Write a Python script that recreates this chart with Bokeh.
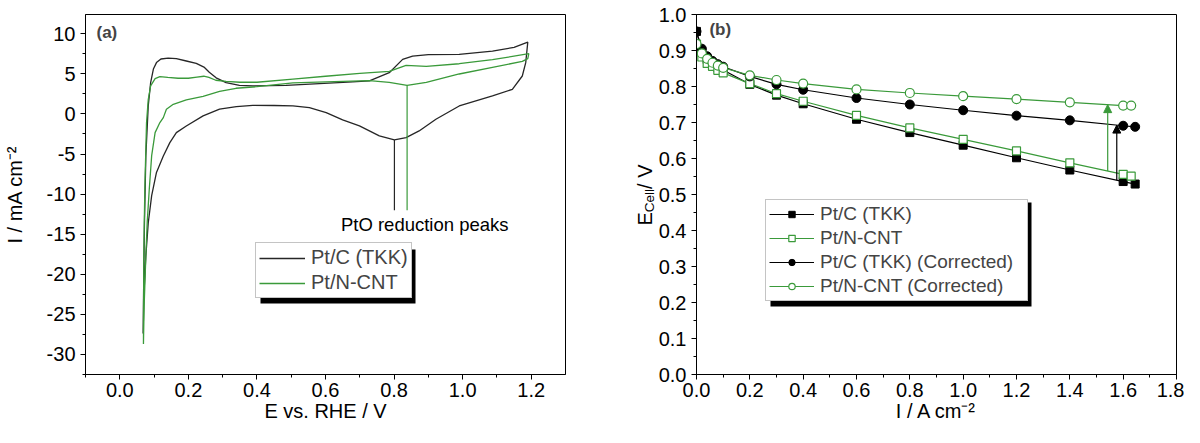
import numpy as np
from bokeh.plotting import figure
from bokeh.models import (Legend, LegendItem, Label, BoxAnnotation, Arrow, NormalHead,
                          SingleIntervalTicker, PrintfTickFormatter, Range1d)
from bokeh.layouts import row
from bokeh.embed import file_html
from bokeh.resources import INLINE

# ---------------- data: panel (a) cyclic voltammograms ----------------
cv_tkk_E = [0.068, 0.070, 0.072, 0.076, 0.083, 0.090, 0.098, 0.107, 0.120, 0.141, 0.165, 0.194,
            0.223, 0.247, 0.261, 0.281, 0.310, 0.349, 0.388, 0.485, 0.582, 0.679, 0.728, 0.786,
            0.825, 0.854, 0.900, 0.990, 1.087, 1.150, 1.190,
            1.184, 1.174, 1.145, 1.087, 0.990, 0.922, 0.873, 0.835, 0.801, 0.757, 0.699, 0.650,
            0.602, 0.553, 0.505, 0.450, 0.388, 0.340, 0.291, 0.243, 0.194, 0.165, 0.146, 0.127,
            0.107, 0.093, 0.083, 0.076, 0.071, 0.068]
cv_tkk_I = [-27.4, -20.0, -13.5, -5.2, 1.0, 3.9, 5.6, 6.4, 6.85, 6.97, 6.9, 6.6,
            6.3, 5.8, 5.2, 4.5, 3.9, 3.57, 3.49, 3.57, 3.78, 4.0, 4.11, 5.14,
            6.8, 7.22, 7.4, 7.42, 7.84, 8.3, 8.95,
            6.39, 4.73, 3.07, 2.24, 0.99, -0.67, -2.12, -2.95, -3.24, -2.74, -1.49, -0.75,
            0.17, 0.79, 1.0, 1.05, 1.07, 0.9, 0.6, -0.25, -1.5, -2.33, -3.58, -5.24,
            -7.3, -10.2, -13.6, -17.7, -22.0, -27.4]

cv_cnt_E = [0.069, 0.070, 0.073, 0.078, 0.083, 0.090, 0.103, 0.117, 0.140, 0.170, 0.200, 0.225,
            0.245, 0.260, 0.280, 0.310, 0.350, 0.400, 0.505, 0.600, 0.700, 0.786, 0.835, 0.894,
            0.990, 1.087, 1.193,
            1.190, 1.174, 1.087, 0.990, 0.894, 0.838, 0.786, 0.728, 0.600, 0.505, 0.400, 0.339,
            0.291, 0.243, 0.194, 0.156, 0.136, 0.127, 0.117, 0.103, 0.093, 0.086, 0.080, 0.076,
            0.071, 0.069]
cv_cnt_I = [-28.7, -17.7, -9.4, -1.1, 1.8, 3.5, 4.4, 4.65, 4.55, 4.45, 4.45, 4.6,
            4.7, 4.55, 4.2, 4.05, 3.95, 3.95, 4.35, 4.7, 5.05, 5.3, 6.05, 5.93,
            6.26, 6.76, 7.51,
            6.9, 6.55, 5.81, 4.98, 3.94, 3.55, 3.94, 4.15, 4.0, 3.86, 3.4, 3.2,
            2.8, 2.2, 1.74, 1.2, 0.58, -0.46, -1.08, -2.33, -5.2, -9.4, -13.5, -17.7,
            -24.0, -28.7]

# ---------------- data: panel (b) polarisation curves ----------------
i_tkk = [0.0, 0.02, 0.04, 0.06, 0.08, 0.1, 0.2, 0.3, 0.4, 0.6, 0.8, 1.0, 1.2, 1.4, 1.6, 1.645]
v_tkk = [0.953, 0.895, 0.875, 0.862, 0.853, 0.846, 0.806, 0.776, 0.752, 0.709, 0.672, 0.637,
         0.602, 0.568, 0.536, 0.529]
v_tkk_corr = [0.953, 0.905, 0.884, 0.871, 0.862, 0.855, 0.828, 0.806, 0.791, 0.768, 0.750,
              0.734, 0.719, 0.706, 0.691, 0.688]
i_cnt = [0.0, 0.02, 0.04, 0.06, 0.08, 0.1, 0.2, 0.3, 0.4, 0.6, 0.8, 1.0, 1.2, 1.4, 1.6, 1.63]
v_cnt = [0.918, 0.882, 0.864, 0.856, 0.845, 0.838, 0.808, 0.780, 0.759, 0.720, 0.685, 0.653,
         0.621, 0.588, 0.556, 0.551]
v_cnt_corr = [0.918, 0.892, 0.877, 0.866, 0.858, 0.852, 0.831, 0.818, 0.808, 0.792, 0.782,
              0.773, 0.765, 0.756, 0.747, 0.747]

labels_a = ["Pt/C (TKK)", "Pt/N-CNT"]
labels_b = ["Pt/C (TKK)", "Pt/N-CNT", "Pt/C (TKK) (Corrected)", "Pt/N-CNT (Corrected)"]
ylabel_b_parts = ["E", "Cell", " / V"]

FONT = "Liberation Sans"
FS = "20px"
BLACK = "#262626"
GREEN = "#3a9a3a"
TOP, BOTTOM, H = 14, 53, 427


def style(p):
    p.background_fill_color = "white"
    p.border_fill_color = "white"
    p.outline_line_color = "black"
    p.outline_line_width = 1
    p.xgrid.visible = False
    p.ygrid.visible = False
    for ax in (p.xaxis[0], p.yaxis[0]):
        ax.axis_line_color = "black"
        ax.major_tick_line_color = "black"
        ax.minor_tick_line_color = "black"
        ax.major_tick_in = 0
        ax.major_tick_out = 5
        ax.minor_tick_in = 0
        ax.minor_tick_out = 3
        ax.major_label_text_font = FONT
        ax.major_label_text_font_size = FS
        ax.major_label_text_color = "black"
        ax.axis_label_text_font = FONT
        ax.axis_label_text_font_size = FS
        ax.axis_label_text_font_style = "normal"
        ax.axis_label_text_color = "black"
    p.xaxis.major_label_standoff = 3
    p.xaxis.axis_label_standoff = 0
    p.yaxis.major_label_standoff = 5


def style_legend(leg, fs, label_width):
    leg.label_text_font = FONT
    leg.label_text_font_size = fs
    leg.border_line_color = "#8a8a8a"
    leg.border_line_width = 1
    leg.background_fill_alpha = 1.0
    leg.padding = 3
    leg.margin = 0
    leg.spacing = 2
    leg.glyph_height = 22
    leg.label_height = 22
    leg.label_standoff = 6
    leg.label_width = label_width


# ---------------- panel (a) ----------------
p1 = figure(width=569, height=H, x_range=Range1d(-0.1, 1.3), y_range=Range1d(-32.5, 12.4),
            output_backend="svg", toolbar_location=None,
            min_border_left=84, min_border_right=4, min_border_top=TOP, min_border_bottom=BOTTOM)
style(p1)
p1.xaxis.ticker = SingleIntervalTicker(interval=0.2, num_minor_ticks=2)
p1.yaxis.ticker = SingleIntervalTicker(interval=5, num_minor_ticks=2)
p1.xaxis.formatter = PrintfTickFormatter(format="%.1f")
p1.yaxis.formatter = PrintfTickFormatter(format="%d")
p1.xaxis.axis_label = "E vs. RHE / V"
p1.yaxis.axis_label = "I / mA cm\u207b\u00b2"
p1.yaxis.axis_label_standoff = 18

ra1 = p1.line(cv_tkk_E, cv_tkk_I, line_color=BLACK, line_width=1.3)
ra2 = p1.line(cv_cnt_E, cv_cnt_I, line_color=GREEN, line_width=1.3)

# reduction-peak markers located from the data
tkk_E = np.array(cv_tkk_E); tkk_I = np.array(cv_tkk_I)
cnt_E = np.array(cv_cnt_E); cnt_I = np.array(cv_cnt_I)
mask_t = (np.arange(len(tkk_E)) > len(tkk_E) // 2) & (tkk_E > 0.7)
mask_c = (np.arange(len(cnt_E)) > len(cnt_E) // 2) & (cnt_E > 0.7)
kt = np.where(mask_t)[0][np.argmin(tkk_I[mask_t])]
kc = np.where(mask_c)[0][np.argmin(cnt_I[mask_c])]
LINE_BOTTOM = -12.0
p1.segment(x0=[tkk_E[kt]], y0=[tkk_I[kt]], x1=[tkk_E[kt]], y1=[LINE_BOTTOM],
           line_color=BLACK, line_width=1.2)
p1.segment(x0=[cnt_E[kc]], y0=[cnt_I[kc]], x1=[cnt_E[kc]], y1=[LINE_BOTTOM],
           line_color=GREEN, line_width=1.2)
p1.add_layout(Label(x=0.645, y=-13.75, text="PtO reduction peaks", text_font=FONT,
                    text_font_size="18.5px", text_baseline="middle", text_align="left",
                    text_color="black"))
p1.add_layout(Label(x=-0.068, y=10.1, text="(a)", text_font=FONT, text_font_size="17px",
                    text_font_style="bold", text_baseline="middle", text_align="left"))

p1.add_layout(BoxAnnotation(left=175, right=330, bottom=71, top=125,
                            left_units="screen", right_units="screen",
                            bottom_units="screen", top_units="screen",
                            fill_color="black", fill_alpha=1.0, line_alpha=0))
leg1 = Legend(items=[LegendItem(label=labels_a[0], renderers=[ra1]),
                     LegendItem(label=labels_a[1], renderers=[ra2])],
              location=(170, 76))
style_legend(leg1, "20px", 97)
leg1.glyph_width = 46
p1.add_layout(leg1)

# ---------------- y-title strip for panel (b): E with subscript "Cell" ----------------
WL = 86
pl = figure(width=WL, height=H, x_range=Range1d(0, WL), y_range=Range1d(0, 1.0),
            output_backend="svg", toolbar_location=None, x_axis_type=None, y_axis_type=None,
            min_border_left=0, min_border_right=0, min_border_top=TOP, min_border_bottom=BOTTOM,
            outline_line_color=None)
pl.xgrid.visible = False
pl.ygrid.visible = False
PX = 360.0  # frame height in px, to convert text advances into y units
Y0 = 0.414
y_sub = Y0 + 13.3 / PX
y_rest = y_sub + 23.2 / PX
for xt, yt, txt, fs in [(75, Y0, ylabel_b_parts[0], "20px"),
                        (80, y_sub, ylabel_b_parts[1], "13.5px"),
                        (75, y_rest, ylabel_b_parts[2], "20px")]:
    pl.add_layout(Label(x=xt, y=yt, text=txt, angle=np.pi / 2, text_font=FONT,
                        text_font_size=fs, text_baseline="alphabetic", text_align="left",
                        text_color="black"))

# ---------------- panel (b) ----------------
p2 = figure(width=529, height=H, x_range=Range1d(0, 1.8), y_range=Range1d(0, 1.0),
            output_backend="svg", toolbar_location=None,
            min_border_left=39, min_border_right=8, min_border_top=TOP, min_border_bottom=BOTTOM)
style(p2)
p2.xaxis.ticker = SingleIntervalTicker(interval=0.2, num_minor_ticks=2)
p2.yaxis.ticker = SingleIntervalTicker(interval=0.1, num_minor_ticks=2)
p2.xaxis.formatter = PrintfTickFormatter(format="%.1f")
p2.yaxis.formatter = PrintfTickFormatter(format="%.1f")
p2.xaxis.axis_label = "I / A cm\u207b\u00b2"

l1 = p2.line(i_tkk, v_tkk, line_color="black", line_width=1.2)
l2 = p2.line(i_cnt, v_cnt, line_color=GREEN, line_width=1.2)
l3 = p2.line(i_tkk, v_tkk_corr, line_color="black", line_width=1.2)
l4 = p2.line(i_cnt, v_cnt_corr, line_color=GREEN, line_width=1.2)
m1 = p2.scatter(i_tkk, v_tkk, marker="square", size=8, fill_color="black", line_color="black")
m2 = p2.scatter(i_cnt, v_cnt, marker="square", size=8, fill_color="white", line_color=GREEN,
                line_width=1.2)
m3 = p2.scatter(i_tkk, v_tkk_corr, marker="circle", size=9, fill_color="black", line_color="black")
m4 = p2.scatter(i_cnt, v_cnt_corr, marker="circle", size=9, fill_color="white", line_color=GREEN,
                line_width=1.2)

# correction arrows (ends interpolated from the curves)
ARROW_X_TKK = 1.576
ARROW_X_CNT = 1.542
for xa, ii, vlo, vhi, col in [(ARROW_X_TKK, i_tkk, v_tkk, v_tkk_corr, "black"),
                              (ARROW_X_CNT, i_cnt, v_cnt, v_cnt_corr, GREEN)]:
    ya0 = float(np.interp(xa, ii, vlo))
    ya1 = float(np.interp(xa, ii, vhi))
    p2.add_layout(Arrow(end=NormalHead(size=8, fill_color=col, line_color=col),
                        x_start=xa, y_start=ya0, x_end=xa, y_end=ya1,
                        line_color=col, line_width=1.2))

p2.add_layout(Label(x=0.0485, y=0.958, text="(b)", text_font=FONT, text_font_size="17px",
                    text_font_style="bold", text_baseline="middle", text_align="left"))

p2.add_layout(BoxAnnotation(left=74, right=335, bottom=68, top=172,
                            left_units="screen", right_units="screen",
                            bottom_units="screen", top_units="screen",
                            fill_color="black", fill_alpha=1.0, line_alpha=0))
leg2 = Legend(items=[LegendItem(label=labels_b[0], renderers=[l1, m1]),
                     LegendItem(label=labels_b[1], renderers=[l2, m2]),
                     LegendItem(label=labels_b[2], renderers=[l3, m3]),
                     LegendItem(label=labels_b[3], renderers=[l4, m4])],
              location=(69, 73))
style_legend(leg2, "19px", 204)
leg2.glyph_width = 45
leg2.glyph_height = 16
p2.add_layout(leg2)

layout = row(p1, pl, p2)
open("out.html", "w").write(file_html(layout, INLINE))
